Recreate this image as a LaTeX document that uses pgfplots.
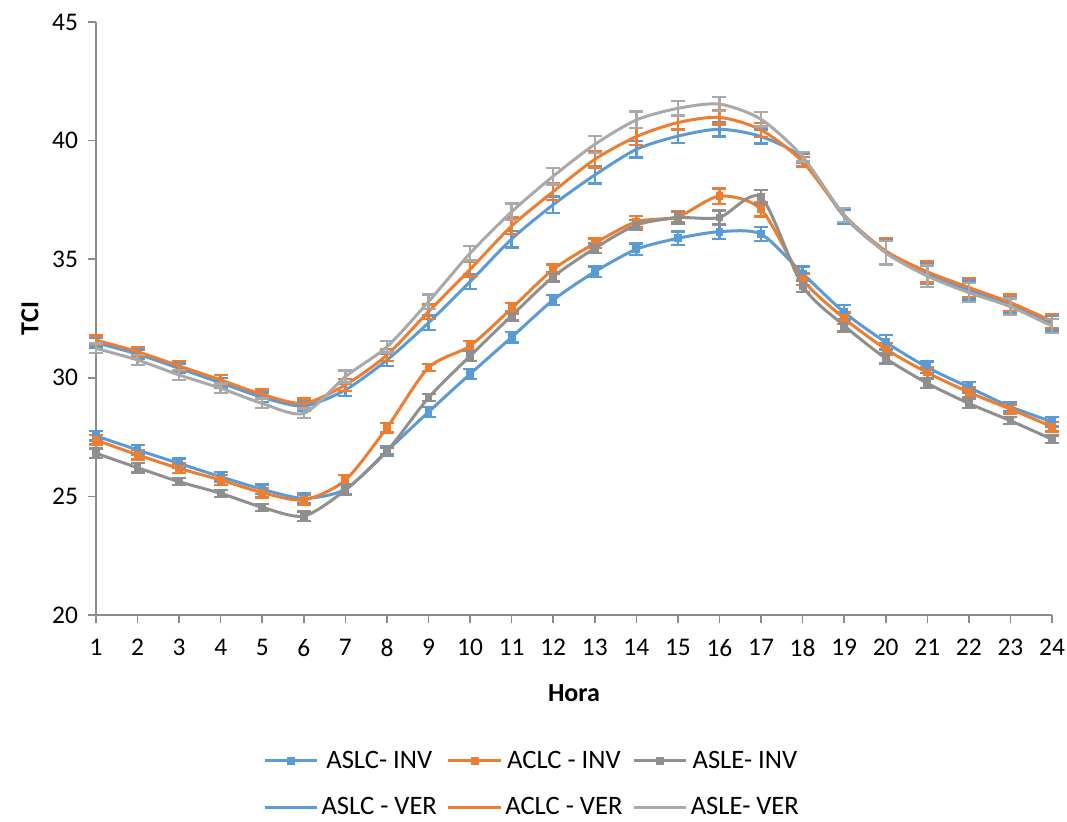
\documentclass[border=0pt]{standalone}
\usepackage{fontspec}
\setmainfont{Carlito}
\usepackage{pgfplots}
\usepackage{pgfplotstable}
\pgfplotsset{compat=1.18}
\definecolor{cblue}{HTML}{5B9BD5}
\definecolor{corange}{HTML}{ED7D31}
\definecolor{cgrayd}{HTML}{8F8F8F}
\definecolor{cgrayl}{HTML}{A9A9A9}
\definecolor{caxis}{HTML}{8C8C8C}

\pgfplotstableread{
x y e
1 27.55 0.2
2 26.96 0.2
3 26.39 0.2
4 25.83 0.2
5 25.30 0.2
6 24.92 0.2
7 25.30 0.2
8 26.92 0.2
9 28.56 0.2
10 30.16 0.22
11 31.71 0.22
12 33.28 0.22
13 34.47 0.22
14 35.42 0.25
15 35.88 0.28
16 36.16 0.3
17 36.06 0.3
18 34.40 0.3
19 32.76 0.3
20 31.50 0.3
21 30.44 0.25
22 29.60 0.22
23 28.78 0.2
24 28.15 0.2
}\aslcinv
\pgfplotstableread{
x y e
1 27.38 0.2
2 26.75 0.2
3 26.18 0.2
4 25.69 0.2
5 25.16 0.2
6 24.85 0.2
7 25.69 0.2
8 27.90 0.2
9 30.43 0.15
10 31.35 0.2
11 32.93 0.22
12 34.57 0.2
13 35.67 0.2
14 36.58 0.25
15 36.79 0.25
16 37.66 0.32
17 37.10 0.3
18 34.15 0.25
19 32.51 0.25
20 31.21 0.25
21 30.22 0.22
22 29.39 0.2
23 28.68 0.2
24 27.94 0.2
}\aclcinv
\pgfplotstableread{
x y e
1 26.82 0.2
2 26.21 0.2
3 25.62 0.15
4 25.13 0.15
5 24.54 0.15
6 24.17 0.2
7 25.27 0.2
8 26.91 0.15
9 29.16 0.15
10 30.92 0.2
11 32.62 0.2
12 34.26 0.2
13 35.46 0.2
14 36.44 0.22
15 36.75 0.25
16 36.76 0.3
17 37.61 0.3
18 33.87 0.25
19 32.20 0.25
20 30.82 0.22
21 29.77 0.2
22 28.92 0.2
23 28.19 0.15
24 27.41 0.15
}\asleinv
\pgfplotstableread{
x y e
1 31.48 0.2
2 31.00 0.2
3 30.40 0.2
4 29.79 0.2
5 29.18 0.2
6 28.81 0.2
7 29.49 0.25
8 30.75 0.25
9 32.32 0.3
10 34.05 0.3
11 35.85 0.35
12 37.30 0.35
13 38.55 0.35
14 39.63 0.35
15 40.19 0.3
16 40.48 0.3
17 40.17 0.3
18 39.25 0.2
19 36.80 0.3
20 35.30 0.5
21 34.40 0.45
22 33.70 0.4
23 33.10 0.35
24 32.30 0.3
}\aslcver
\pgfplotstableread{
x y e
1 31.59 0.2
2 31.10 0.2
3 30.50 0.2
4 29.91 0.2
5 29.30 0.2
6 28.92 0.2
7 29.70 0.25
8 30.96 0.25
9 32.79 0.3
10 34.57 0.3
11 36.40 0.35
12 37.85 0.35
13 39.21 0.35
14 40.17 0.35
15 40.76 0.3
16 40.98 0.3
17 40.45 0.3
18 39.11 0.2
19 36.86 0.3
20 35.35 0.55
21 34.47 0.45
22 33.81 0.4
23 33.17 0.35
24 32.39 0.3
}\aclcver
\pgfplotstableread{
x y e
1 31.24 0.2
2 30.75 0.2
3 30.12 0.2
4 29.56 0.2
5 28.92 0.2
6 28.50 0.2
7 30.05 0.25
8 31.31 0.25
9 33.21 0.3
10 35.25 0.3
11 37.00 0.35
12 38.50 0.35
13 39.84 0.35
14 40.87 0.35
15 41.36 0.3
16 41.54 0.3
17 40.90 0.3
18 39.32 0.2
19 36.86 0.3
20 35.27 0.5
21 34.29 0.45
22 33.59 0.4
23 33.00 0.35
24 32.18 0.3
}\aslever

\begin{document}
\begin{tikzpicture}
\begin{axis}[
  at={(48pt,103pt)}, anchor=south west,
  width=478pt, height=296.5pt, scale only axis,
  xmin=1, xmax=24, ymin=20, ymax=45,
  xtick={1,...,24}, ytick={20,25,...,45},
  axis x line=bottom, axis y line=left,
  axis line style={caxis, line width=0.8pt, -},
  x axis line style={-}, y axis line style={-},
  tick style={caxis, line width=0.8pt},
  major tick length=4pt,
  xtick align=outside, ytick align=outside,
  tick label style={font=\fontsize{12.7}{15}\selectfont},
  /pgf/number format/assume math mode=true,
  xticklabel style={yshift=-4.5pt},
  yticklabel style={xshift=-1.5pt},
  xlabel={\textbf{Hora}}, ylabel={\textbf{TCI}},
  label style={font=\fontsize{13}{15}\selectfont},
  xlabel style={yshift=-7pt},
  ylabel style={yshift=0pt},
  clip=false,
  legend columns=3,
  legend style={at={(0.4567,-0.285)}, anchor=center, draw=none,
    font=\fontsize{13.3}{15}\selectfont, row sep=9pt,
    nodes={inner xsep=1.5pt},
    /tikz/every even column/.append style={column sep=3.5pt}},
  legend image code/.code={
    \draw[#1] (0cm,0cm) -- (0.46cm,0cm) -- (0.92cm,0cm);
    \draw[#1, only marks] plot coordinates {(0.46cm,0cm)};
  },
  every axis plot/.append style={smooth, tension=0.45, line width=1.5pt},
  error bars/y dir=both, error bars/y explicit,
  error bars/error bar style={line width=1.2pt},
  error bars/error mark options={line width=1.2pt, mark size=3.5pt, rotate=90},
]
\addplot[cblue, mark=square*, mark size=1.7pt, mark options={solid, line width=0.5pt}] table[x=x, y=y, y error=e] {\aslcinv};
\addlegendentry{ASLC- INV}
\addplot[corange, mark=square*, mark size=1.7pt, mark options={solid, line width=0.5pt}] table[x=x, y=y, y error=e] {\aclcinv};
\addlegendentry{ACLC - INV}
\addplot[cgrayd, mark=square*, mark size=1.7pt, mark options={solid, line width=0.5pt}] table[x=x, y=y, y error=e] {\asleinv};
\addlegendentry{ASLE- INV}
\addplot[cblue, mark=none] table[x=x, y=y, y error=e] {\aslcver};
\addlegendentry{ASLC - VER}
\addplot[corange, mark=none] table[x=x, y=y, y error=e] {\aclcver};
\addlegendentry{ACLC - VER}
\addplot[cgrayl, mark=none] table[x=x, y=y, y error=e] {\aslever};
\addlegendentry{ASLE- VER}
\end{axis}
\pgfresetboundingbox
\useasboundingbox (0,0) rectangle (533.5pt,410.5pt);
\end{tikzpicture}
\end{document}
